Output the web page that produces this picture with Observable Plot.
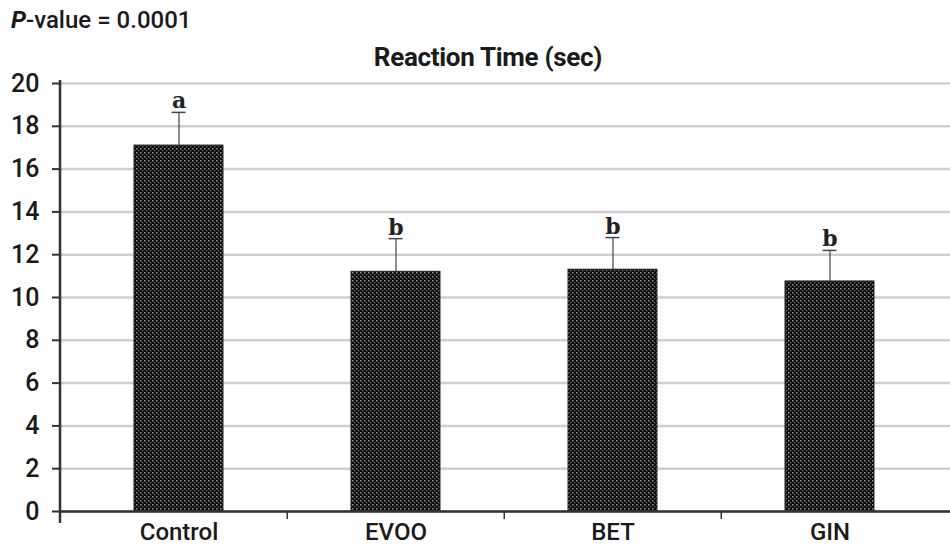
<!DOCTYPE html>
<html>
<head>
<meta charset="utf-8">
<script src="https://cdn.jsdelivr.net/npm/d3@7"></script>
<script src="https://cdn.jsdelivr.net/npm/@observablehq/plot@0.6"></script>
<style>
  html, body { margin: 0; padding: 0; background: #fff; }
  #wrap { position: relative; width: 950px; height: 548px; font-family: Roboto, sans-serif; color: #1a1a1a; }
  #pval { position: absolute; left: 11px; top: 6px; font-size: 24px; font-weight: 500; white-space: nowrap; }
  #pval b { font-style: italic; font-weight: 700; }
  #title { position: absolute; left: 0; width: 976px; top: 42px; text-align: center; font-size: 26px; font-weight: 700; white-space: nowrap; letter-spacing: -0.3px; }
  #chart { position: absolute; left: 0; top: 0; }
</style>
</head>
<body>
<div id="wrap">
  <div id="chart"></div>
  <div id="pval"><b>P</b>-value = 0.0001</div>
  <div id="title">Reaction Time (sec)</div>
</div>
<script>
const groups = ["Control", "EVOO", "BET", "GIN"];
const means = [17.1, 11.2, 11.3, 10.75];
const errTops = [18.65, 12.75, 12.8, 12.2];
const letters = ["a", "b", "b", "b"];
const yTicks = [0, 2, 4, 6, 8, 10, 12, 14, 16, 18, 20];

const data = groups.map((g, i) => ({group: g, mean: means[i], top: errTops[i], letter: letters[i]}));

const chart = Plot.plot({
  width: 950,
  height: 548,
  marginLeft: 60,
  marginRight: 0,
  marginTop: 83,
  marginBottom: 37,
  style: {fontFamily: "Roboto, sans-serif", color: "#1a1a1a", background: "transparent"},
  x: {domain: groups, range: [69, 939], padding: 0},
  y: {domain: [0, 20], ticks: yTicks},
  marks: [
    Plot.ruleY(yTicks, {stroke: "#cfcfcf", strokeWidth: 2.5}),
    Plot.barY(data, {x: "group", y: "mean", fill: "url(#dots)", stroke: "#222", strokeWidth: 1, insetLeft: 64, insetRight: 64}),
    Plot.ruleX(data, {x: "group", y1: "mean", y2: "top", stroke: "#444", strokeWidth: 1.2}),
    Plot.tickY(data, {x: "group", y: "top", stroke: "#444", strokeWidth: 1.5, insetLeft: 101.5, insetRight: 101.5}),
    Plot.text(data, {x: "group", y: "top", text: "letter", lineAnchor: "bottom", dy: -4, fontFamily: "'DejaVu Serif', serif", fontWeight: "bold", fontSize: 22, fill: "#222"}),
    Plot.ruleY([0], {stroke: "#333", strokeWidth: 2.5}),
    Plot.axisY({ticks: yTicks, tickSize: 8, tickPadding: 13, fontSize: 25, fontWeight: 500, stroke: "#333", strokeWidth: 2, label: null}),
    Plot.axisX({ticks: ["EVOO", "BET", "GIN"], tickSize: 8, text: null, dx: -108.75, stroke: "#333", strokeWidth: 1.5, label: null}),
    Plot.axisX({tickSize: 0, tickPadding: 11, fontSize: 24, fontWeight: 500, label: null})
  ]
});

// pattern for the dotted bar fill
const svg = d3.select(chart);
const defs = svg.insert("defs", ":first-child");
const pat = defs.append("pattern").attr("id", "dots").attr("patternUnits", "userSpaceOnUse").attr("width", 4).attr("height", 4);
pat.append("rect").attr("width", 4).attr("height", 4).attr("fill", "#0a0a0a");
pat.append("rect").attr("x", 0).attr("y", 0).attr("width", 1.5).attr("height", 1.5).attr("fill", "#9a9a9a");
pat.append("rect").attr("x", 2).attr("y", 2).attr("width", 1.3).attr("height", 1.3).attr("fill", "#707070");

// y axis line extends slightly past 0 and 20
const yS = chart.scale("y");
svg.append("line").attr("x1", 60).attr("x2", 60).attr("y1", yS.apply(20) - 3).attr("y2", yS.apply(0) + 12).attr("stroke", "#333").attr("stroke-width", 2.5);

document.getElementById("chart").appendChild(chart);
</script>
</body>
</html>
